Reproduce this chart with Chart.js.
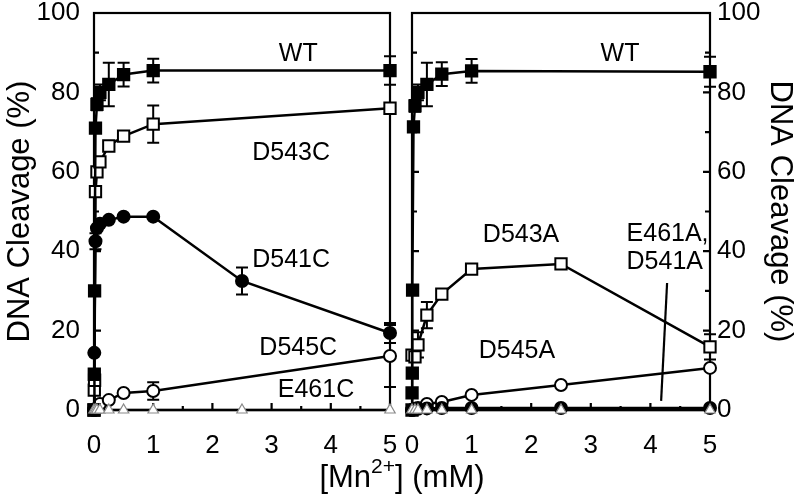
<!DOCTYPE html>
<html><head><meta charset="utf-8">
<script src="https://cdn.jsdelivr.net/npm/chart.js@4"></script>
<style>
body{margin:0;background:#fff;width:800px;height:500px;overflow:hidden;position:relative;font-family:"Liberation Sans",Arial,sans-serif}
canvas{position:absolute;top:0}
#c1{left:0}
#c2{left:400px}
#xt{position:absolute;left:0;width:804px;top:459px;text-align:center;font-size:31px;line-height:36px;color:#000}
#xt sup{font-size:21px;line-height:0;position:relative;top:-3px}
</style></head><body>
<canvas id="c1" width="400" height="500"></canvas>
<canvas id="c2" width="400" height="500"></canvas>
<div id="xt">[Mn<sup>2+</sup>] (mM)</div>
<script>
// ---- axis ticks ----
const xTicks = [0, 1, 2, 3, 4, 5];
const xMinor = [0.5, 1.5, 2.5, 3.5, 4.5];
const yTicks = [0, 20, 40, 60, 80, 100];
const yMinor = [10, 30, 50, 70, 90];

// ---- left panel: cysteine mutants ----
const wtC_x  = [0, 0.005, 0.01, 0.025, 0.05, 0.1, 0.25, 0.5, 1, 5];
const wtC_y  = [0, 9, 30, 71, 77, 80, 82, 84.5, 85.5, 85.5];
const wtC_e  = [0, 0, 0, 0, 1.5, 2, 5.5, 3, 3, 3.6];
const d543C_x = [0, 0.005, 0.01, 0.025, 0.05, 0.1, 0.25, 0.5, 1, 5];
const d543C_y = [0, 5, 7.5, 55, 60, 62.5, 66.5, 69, 72, 76];
const d543C_e = [0, 0, 0, 0, 0, 0, 0, 0, 4.7, 0];
const d541C_x = [0, 0.005, 0.025, 0.05, 0.1, 0.25, 0.5, 1, 2.5, 5];
const d541C_y = [0, 14.4, 42.5, 45.8, 46.9, 47.9, 48.7, 48.7, 32.5, 19.4];
const d541C_e = [0, 0, 2, 0, 0, 0, 0, 0, 3.4, 2.5];
const d545C_x = [0, 0.05, 0.1, 0.25, 0.5, 1, 5];
const d545C_y = [0, 0.5, 1.5, 2.5, 4.3, 4.8, 13.6];
const d545C_e = [0, 0, 0, 0, 0, 2.2, 7.8];
const e461C_x = [0, 0.025, 0.05, 0.1, 0.25, 0.5, 1, 2.5, 5];
const e461C_y = [0, 0, 0, 0, 0, 0, 0, 0, 0];

// ---- right panel: alanine mutants ----
const wtA_x  = [0, 0.001, 0.005, 0.01, 0.025, 0.05, 0.1, 0.25, 0.5, 1, 5];
const wtA_y  = [0, 4.3, 9.3, 30.2, 71.3, 76.6, 80, 82, 84.6, 85.4, 85.2];
const wtA_e  = [0, 0, 0, 0, 0, 1.5, 2, 5.5, 3, 3, 3.8];
const d543A_x = [0, 0.05, 0.1, 0.25, 0.5, 1, 2.5, 5];
const d543A_y = [13.8, 13.4, 16.4, 23.9, 29.2, 35.5, 36.8, 15.9];
const d543A_e = [0, 0, 3.2, 3.3, 0, 0, 0, 3.2];
const d545A_x = [0, 0.05, 0.1, 0.25, 0.5, 1, 2.5, 5];
const d545A_y = [0, 0.3, 0.5, 1.5, 2, 3.8, 6.3, 10.6];
const d541A_x = [0, 0.05, 0.1, 0.25, 0.5, 1, 2.5, 5];
const d541A_y = [0, 0.2, 0.3, 0.4, 0.5, 0.5, 0.5, 0.5];
const e461A_x = [0, 0.05, 0.1, 0.25, 0.5, 1, 2.5, 5];
const e461A_y = [0, 0, 0, 0, 0, 0, 0, 0];

// ---- series labels (text + anchor in data units) ----
const labelsC = [
  {t: 'WT', x: 3.45, y: 89.7},
  {t: 'D543C', x: 3.33, y: 64.7},
  {t: 'D541C', x: 3.33, y: 37.8},
  {t: 'D545C', x: 3.45, y: 15.6},
  {t: 'E461C', x: 3.75, y: 5.0}
];
const labelsA = [
  {t: 'WT', x: 3.49, y: 89.7},
  {t: 'D543A', x: 1.83, y: 44.1},
  {t: 'D545A', x: 1.76, y: 14.9},
  {t: 'E461A,', x: 3.6, y: 44.3, align: 'left'},
  {t: 'D541A', x: 3.6, y: 37.2, align: 'left'}
];
const pointerA = [{x: 4.28, y: 32}, {x: 4.18, y: 2.3}];

const FONT = '"Liberation Sans", Arial, sans-serif';
const pts = (xs, ys) => xs.map((v, i) => ({x: v, y: ys[i]}));

function series(kind, xs, ys, err) {
  const base = {data: pts(xs, ys), showLine: true, borderColor: '#000', borderWidth: 2.5,
    pointBorderWidth: 2, pointBorderColor: '#000', clip: false, err: err};
  if (kind === 'fsq') return Object.assign(base, {pointStyle: 'rect', pointRadius: 8, pointBackgroundColor: '#000'});
  if (kind === 'osq') return Object.assign(base, {pointStyle: 'rect', pointRadius: 8, pointBackgroundColor: '#fff'});
  if (kind === 'fci') return Object.assign(base, {pointStyle: 'circle', pointRadius: 6, pointBackgroundColor: '#000'});
  if (kind === 'oci') return Object.assign(base, {pointStyle: 'circle', pointRadius: 6, pointBackgroundColor: '#fff'});
  if (kind === 'tri') return Object.assign(base, {pointStyle: 'triangle', pointRadius: 6, pointBackgroundColor: '#fff',
    pointBorderColor: '#8a8a8a', pointBorderWidth: 1.2, borderWidth: 2.5});
}

const errBars = {
  id: 'errBars',
  beforeDatasetsDraw(chart) {
    const {ctx} = chart, x = chart.scales.x, y = chart.scales.y;
    ctx.save(); ctx.strokeStyle = '#000'; ctx.lineWidth = 2;
    chart.data.datasets.forEach(ds => {
      if (!ds.err) return;
      ds.data.forEach((p, i) => {
        const e = ds.err[i]; if (!e) return;
        const px = x.getPixelForValue(p.x), y1 = y.getPixelForValue(p.y + e), y2 = y.getPixelForValue(p.y - e);
        ctx.beginPath();
        ctx.moveTo(px, y1); ctx.lineTo(px, y2);
        ctx.moveTo(px - 6, y1); ctx.lineTo(px + 6, y1);
        ctx.moveTo(px - 6, y2); ctx.lineTo(px + 6, y2);
        ctx.stroke();
      });
    });
    ctx.restore();
  }
};

const frame = {
  id: 'frame',
  beforeDatasetsDraw(chart, args, opts) {
    const {ctx, chartArea: a} = chart, x = chart.scales.x, y = chart.scales.y;
    ctx.save(); ctx.strokeStyle = '#000'; ctx.lineWidth = 2.2;
    ctx.strokeRect(a.left, a.top, a.right - a.left, a.bottom - a.top);
    ctx.beginPath();
    xTicks.forEach(v => { const p = x.getPixelForValue(v); ctx.moveTo(p, a.bottom); ctx.lineTo(p, a.bottom - 7); });
    xMinor.forEach(v => { const p = x.getPixelForValue(v); ctx.moveTo(p, a.bottom); ctx.lineTo(p, a.bottom - 4); });
    const sides = opts.right ? [a.left, a.right] : [a.left];
    sides.forEach(sx => {
      const dir = sx === a.left ? 1 : -1;
      yTicks.forEach(v => { const p = y.getPixelForValue(v); ctx.moveTo(sx, p); ctx.lineTo(sx + dir * 7, p); });
      yMinor.forEach(v => { const p = y.getPixelForValue(v); ctx.moveTo(sx, p); ctx.lineTo(sx + dir * 5, p); });
    });
    ctx.stroke();
    ctx.restore();
  },
  afterDatasetsDraw(chart, args, opts) {
    const {ctx} = chart, x = chart.scales.x, y = chart.scales.y;
    ctx.save(); ctx.fillStyle = '#000'; ctx.font = '25px ' + FONT; ctx.textBaseline = 'middle';
    (opts.labels || []).forEach(l => {
      ctx.textAlign = l.align || 'center';
      ctx.fillText(l.t, x.getPixelForValue(l.x), y.getPixelForValue(l.y));
    });
    if (opts.pointer) {
      ctx.strokeStyle = '#000'; ctx.lineWidth = 2.2; ctx.beginPath();
      ctx.moveTo(x.getPixelForValue(opts.pointer[0].x), y.getPixelForValue(opts.pointer[0].y));
      ctx.lineTo(x.getPixelForValue(opts.pointer[1].x), y.getPixelForValue(opts.pointer[1].y));
      ctx.stroke();
    }
    ctx.restore();
  }
};

function noPad(s) { s.paddingTop = 0; s.paddingBottom = 0; s.paddingLeft = 0; s.paddingRight = 0; }

function makePanel(id, datasets, side, frameOpts) {
  const yAxis = {
    position: side, min: 0, max: 100,
    afterBuildTicks: s => { s.ticks = yTicks.map(v => ({value: v})); },
    afterFit: s => { s.width = side === 'left' ? 94 : 90; noPad(s); },
    grid: {display: false, drawTicks: false},
    border: {display: false},
    ticks: {color: '#000', font: {size: 26, family: FONT}, padding: side === 'left' ? 14 : 7},
    title: {display: true, text: 'DNA Cleavage (%)', color: '#000', font: {size: 31, family: FONT},
      padding: {top: 2, bottom: 0}}
  };
  const xAxis = {
    type: 'linear', position: 'bottom', min: 0, max: 5,
    afterBuildTicks: s => { s.ticks = xTicks.map(v => ({value: v})); },
    afterFit: s => { s.height = 90; noPad(s); },
    grid: {display: false, drawTicks: false},
    border: {display: false},
    ticks: {color: '#000', font: {size: 26, family: FONT}, padding: 20, maxRotation: 0}
  };
  return new Chart(document.getElementById(id), {
    type: 'scatter',
    data: {datasets},
    options: {
      responsive: false, animation: false,
      layout: {padding: side === 'left' ? {left: 0, right: 8, top: 13, bottom: 0} : {left: 12, right: 0, top: 13, bottom: 0}},
      plugins: {legend: {display: false}, tooltip: {enabled: false}, frame: frameOpts},
      scales: {x: xAxis, y: yAxis}
    },
    plugins: [errBars, frame]
  });
}

makePanel('c1', [
  series('tri', e461C_x, e461C_y),
  series('fsq', wtC_x, wtC_y, wtC_e),
  series('osq', d543C_x, d543C_y, d543C_e),
  series('fci', d541C_x, d541C_y, d541C_e),
  series('oci', d545C_x, d545C_y, d545C_e)
], 'left', {labels: labelsC, right: false});

makePanel('c2', [
  series('tri', e461A_x, e461A_y),
  series('fsq', wtA_x, wtA_y, wtA_e),
  series('osq', d543A_x, d543A_y, d543A_e),
  series('fci', d541A_x, d541A_y),
  series('oci', d545A_x, d545A_y)
], 'right', {labels: labelsA, pointer: pointerA, right: true});
</script>
</body></html>
